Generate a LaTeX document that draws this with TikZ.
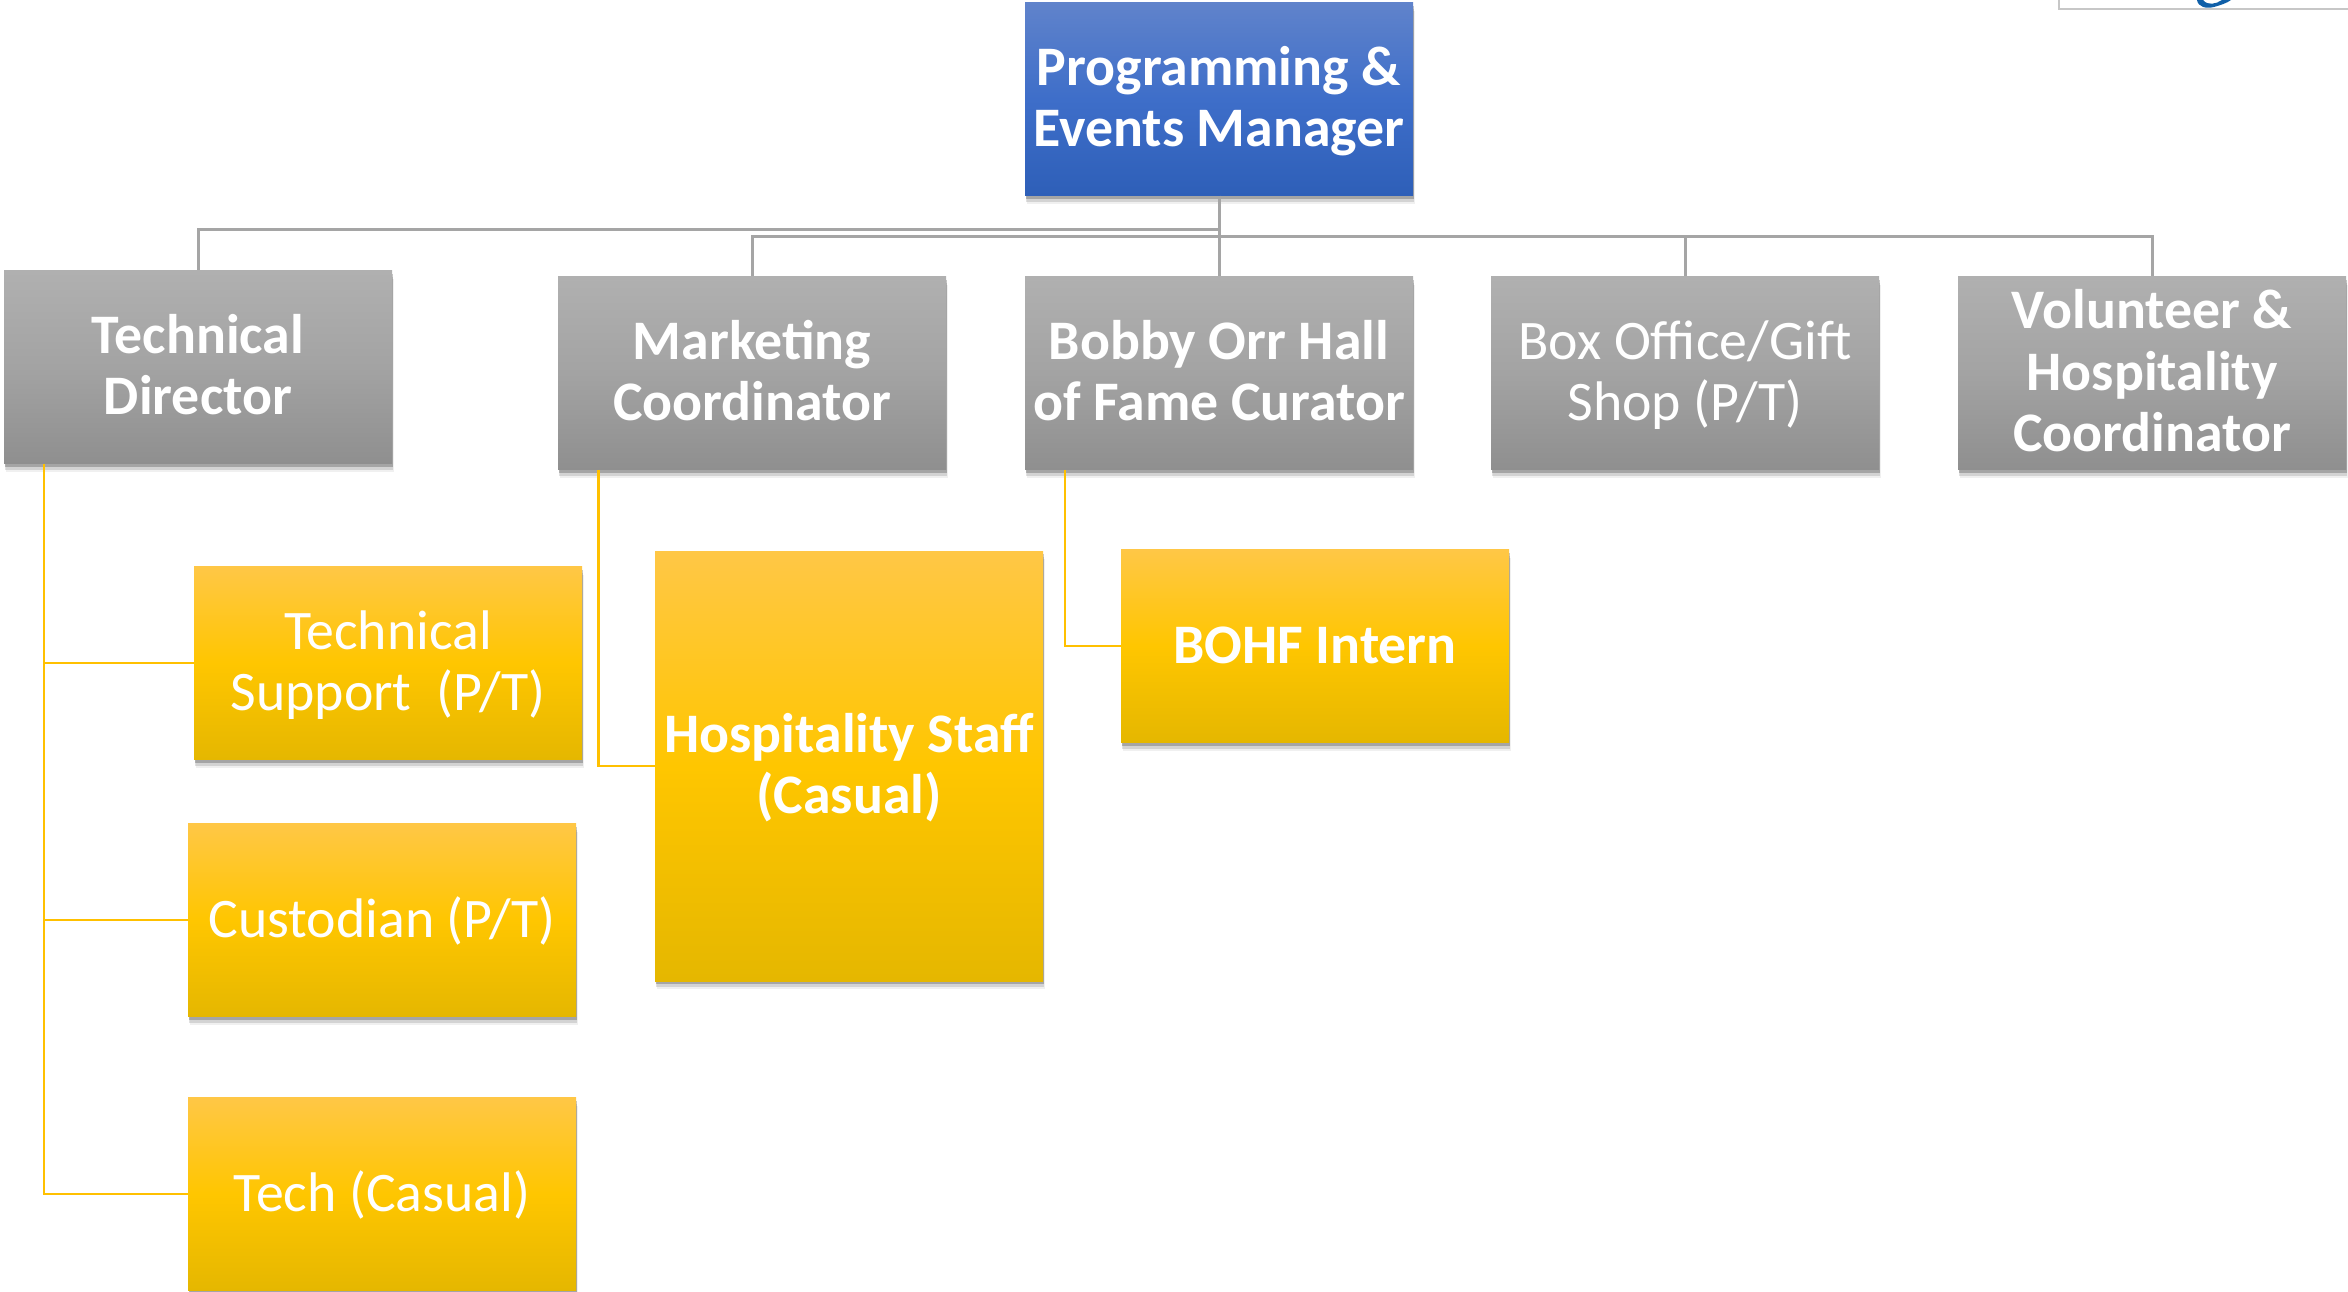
\documentclass[tikz,border=0pt]{standalone}
\usepackage{fontspec}
\setmainfont{Carlito}
\usetikzlibrary{shadows}
\definecolor{blueT}{HTML}{6083CB}\definecolor{blueM}{HTML}{3E6EC9}\definecolor{blueB}{HTML}{2E5FB8}
\definecolor{grayT}{HTML}{B0B0B0}\definecolor{grayM}{HTML}{A3A3A3}\definecolor{grayB}{HTML}{8F8F8F}
\definecolor{yelT}{HTML}{FFC746}\definecolor{yelM}{HTML}{FFC600}\definecolor{yelB}{HTML}{E5B700}
\definecolor{graylink}{HTML}{A5A5A5}\definecolor{yellink}{HTML}{FFC000}\definecolor{logoblue}{HTML}{0F5FA8}
\newcommand{\ftop}{\rule{0pt}{50pt}}
\newcommand{\flast}{\rule[-16pt]{0pt}{16pt}}
\tikzset{
  x=1pt,y=-1pt,
  orgbox/.style={rectangle,draw=none,inner sep=0pt,align=center,text=white,
    minimum width=388pt,minimum height=193pt,
    font=\fontsize{55.8}{61.5}\selectfont,
    general shadow={shadow xshift=1.5pt,shadow yshift=-8pt,fill=black,opacity=.06},
    general shadow={shadow xshift=1pt,shadow yshift=-6pt,fill=black,opacity=.12},
    general shadow={shadow xshift=1pt,shadow yshift=-3pt,fill=black,opacity=.22}},
  bluebox/.style={orgbox,top color=blueT,bottom color=blueB,middle color=blueM},
  graybox/.style={orgbox,top color=grayT,bottom color=grayB,middle color=grayM},
  yelbox/.style={orgbox,top color=yelT,bottom color=yelB,middle color=yelM},
  graylinkst/.style={draw=graylink,line width=3pt},
  yellinkst/.style={draw=yellink,line width=2.6pt},
}
\begin{document}
\begin{tikzpicture}
\useasboundingbox (0,0) rectangle (2348,1291);
% logo fragment
\coordinate (logoA) at (2059,0);
\coordinate (logoB) at (2059,9);
\coordinate (logoC) at (2348,9);
\draw[draw=black!22,line width=2pt] (logoA) -- (logoB) -- (logoC);
\fill[logoblue] (2197,0) .. controls (2198,7) and (2206,9) .. (2214,7) .. controls (2221,5) and (2227,3) .. (2231,0) -- (2222,0) .. controls (2216,4) and (2208,6) .. (2203,0) -- cycle;
% nodes
\node[bluebox] (top) at (1219,99) {\ftop\textbf{Programming \&}\\\flast\textbf{Events Manager}};
\node[graybox] (td) at (198,367) {\ftop\textbf{Technical}\\\flast\textbf{Director}};
\node[graybox] (mc) at (752,373) {\ftop\textbf{Marketing}\\\flast\textbf{Coordinator}};
\node[graybox] (bo) at (1219,373) {\ftop\textbf{Bobby Orr Hall}\\\flast\textbf{of Fame Curator}};
\node[graybox] (bx) at (1685,373) {\ftop Box Office/Gift\\\flast Shop (P/T)};
\node[graybox] (vh) at (2152,373) {\ftop\textbf{Volunteer \&}\\\textbf{Hospitality}\\\flast\textbf{Coordinator}};
\node[yelbox] (ts) at (388,663) {\ftop Technical\\\flast Support~~(P/T)};
\node[yelbox] (cu) at (382,920) {\ftop\flast Custodian (P/T)};
\node[yelbox] (tc) at (382,1194) {\ftop\flast Tech (Casual)};
\node[yelbox,minimum height=430pt] (hs) at (849,766) {\ftop\textbf{Hospitality Staff}\\\flast\textbf{(Casual)}};
\node[yelbox] (in) at (1315,646) {\ftop\flast\textbf{BOHF Intern}};
% connector helpers
\coordinate (busA) at (1219,229);
\coordinate (busB) at (1219,236);
\coordinate (spineA) at (44,300);
\coordinate (spineM) at (598.5,300);
\coordinate (spineB) at (1065,300);
% grey connectors
\draw[graylinkst] (top.south) -- (busA) -- (td.north |- busA) -- (td.north);
\draw[graylinkst] (top.south) -- (bo.north);
\draw[graylinkst] (mc.north) -- (mc.north |- busB) -- (vh.north |- busB) -- (vh.north);
\draw[graylinkst] (bx.north |- busB) -- (bx.north);
% yellow connectors
\draw[yellinkst] (spineA |- td.south) -- (spineA |- tc.west) -- (tc.west);
\draw[yellinkst] (spineA |- ts.west) -- (ts.west);
\draw[yellinkst] (spineA |- cu.west) -- (cu.west);
\draw[yellinkst] (spineM |- mc.south) -- (spineM |- hs.west) -- (hs.west);
\draw[yellinkst] (spineB |- bo.south) -- (spineB |- in.west) -- (in.west);
\end{tikzpicture}
\end{document}
